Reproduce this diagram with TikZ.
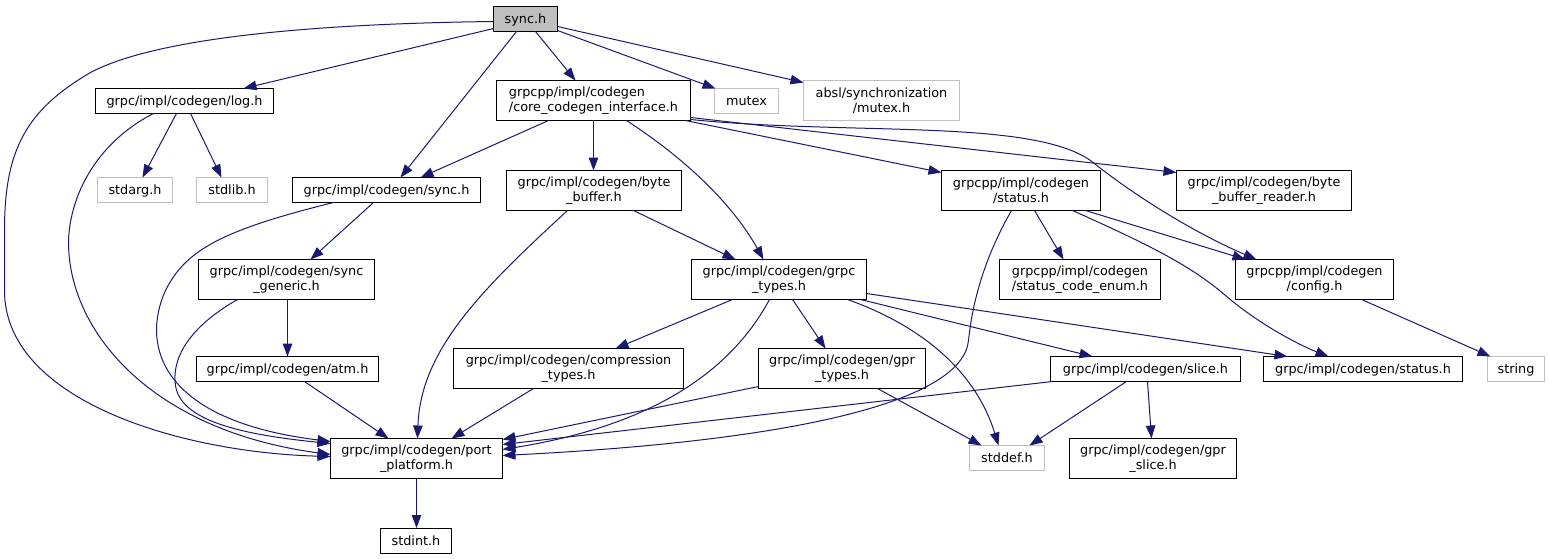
\documentclass[tikz,border=0pt]{standalone}
\usepackage{fontspec}
\setmainfont{DejaVu Sans}
\usetikzlibrary{arrows.meta}
\definecolor{navyc}{HTML}{191970}
\definecolor{greyc}{HTML}{BFBFBF}
\begin{document}
\begin{tikzpicture}[x=1pt,y=-1pt,
  nb/.style={draw=black, fill=white, line width=1pt, inner sep=0pt, outer sep=0pt,
    font=\fontsize{12.8}{15}\selectfont, align=center, minimum height=40pt},
  one/.style={minimum height=25pt, text height=10pt, text depth=1pt},
  gb/.style={nb, draw=greyc},
  e/.style={draw=navyc, line width=1pt, -{Triangle[length=13pt,width=9.5pt]}}]
\useasboundingbox (0,0) rectangle (1549,559);
\begin{scope}[shift={(0.5,0.5)}]
% nodes
\node[nb, one, fill=greyc, minimum width=64pt] (s) at (525,18.5) {sync.h};
\node[nb, one, minimum width=178pt] (log) at (184,100.5) {grpc/impl/codegen/log.h};
\node[nb, align=left, minimum width=194pt] (cci) at (593,100) {grpcpp/impl/codegen\\/core\_codegen\_interface.h};
\node[gb, one, minimum width=64pt] (mutex) at (746,100.5) {mutex};
\node[gb, minimum width=156pt] (absl) at (881,100) {absl/synchronization\\/mutex.h};
\node[gb, one, minimum width=75pt] (stdarg) at (134.5,189.5) {stdarg.h};
\node[gb, one, minimum width=71pt] (stdlib) at (231.5,189.5) {stdlib.h};
\node[nb, one, minimum width=188pt] (gsync) at (386,189.5) {grpc/impl/codegen/sync.h};
\node[nb, minimum width=175pt] (bb) at (593.5,190) {grpc/impl/codegen/byte\\\_buffer.h};
\node[nb, minimum width=159pt] (ppstatus) at (1020.5,190) {grpcpp/impl/codegen\\/status.h};
\node[nb, minimum width=175pt] (bbr) at (1263.5,190) {grpc/impl/codegen/byte\\\_buffer\_reader.h};
\node[nb, minimum width=176pt] (sgen) at (286,279) {grpc/impl/codegen/sync\\\_generic.h};
\node[nb, minimum width=175pt] (gtypes) at (778.5,279) {grpc/impl/codegen/grpc\\\_types.h};
\node[nb, minimum width=161pt] (sce) at (1079.5,279) {grpcpp/impl/codegen\\/status\_code\_enum.h};
\node[nb, minimum width=158pt] (config) at (1314,279) {grpcpp/impl/codegen\\/config.h};
\node[nb, one, minimum width=182pt] (atm) at (287,368.5) {grpc/impl/codegen/atm.h};
\node[nb, minimum width=230pt] (comp) at (568,368) {grpc/impl/codegen/compression\\\_types.h};
\node[nb, minimum width=167pt] (gprt) at (841.5,368) {grpc/impl/codegen/gpr\\\_types.h};
\node[nb, one, minimum width=190pt] (slice) at (1145,368.5) {grpc/impl/codegen/slice.h};
\node[nb, one, minimum width=199pt] (gstatus) at (1362.5,368.5) {grpc/impl/codegen/status.h};
\node[gb, one, minimum width=57pt] (string) at (1515.5,368.5) {string};
\node[nb, minimum width=172pt] (pp) at (416,458) {grpc/impl/codegen/port\\\_platform.h};
\node[gb, one, minimum width=75pt] (stddef) at (1006.5,457.5) {stddef.h};
\node[nb, minimum width=167pt] (gslice) at (1152.5,458) {grpc/impl/codegen/gpr\\\_slice.h};
\node[nb, one, minimum width=71pt] (stdint) at (415.5,540) {stdint.h};
% edges from sync.h
\draw[e] (s.west |- 0,21) .. controls (330,23) and (160,35) .. (90,72) .. controls (25,110) and (4,150) .. (4,230) -- (4,290) .. controls (4,400) and (180,452) .. (pp.west |- 0,456);
\draw[e] (s.west |- 0,28) -- (243,0 |- log.north);
\draw[e] (516,0 |- s.south) -- (400,0 |- gsync.north);
\draw[e] (535,0 |- s.south) -- (575,0 |- cci.north);
\draw[e] (s.east |- 0,30) -- (715,0 |- mutex.north);
\draw[e] (s.east |- 0,26) -- (absl.west |- 0,82);
% log.h
\draw[e] (153,0 |- log.south) .. controls (100,140) and (70,190) .. (68,240) .. controls (67,330) and (150,430) .. (pp.west |- 0,454);
\draw[e] (176,0 |- log.south) -- (142,0 |- stdarg.north);
\draw[e] (190,0 |- log.south) -- (221,0 |- stdlib.north);
% core_codegen_interface.h
\draw[e] (548,0 |- cci.south) -- (420,0 |- gsync.north);
\draw[e] (593,0 |- cci.south) -- (593,0 |- bb.north);
\draw[e] (626,0 |- cci.south) .. controls (680,155) and (730,200) .. (763,0 |- gtypes.north);
\draw[e] (685,0 |- cci.south) -- (ppstatus.west |- 0,172);
\draw[e] (cci.east |- 0,117) -- (bbr.west |- 0,172);
\draw[e] (cci.east |- 0,119) .. controls (850,135) and (1030,118) .. (1090,160) .. controls (1140,200) and (1200,235) .. (1256,0 |- config.north);
% grpc sync.h
\draw[e] (333,0 |- gsync.south) .. controls (220,230) and (185,250) .. (165,290) .. controls (140,345) and (160,420) .. (pp.west |- 0,441);
\draw[e] (373,0 |- gsync.south) -- (310,0 |- sgen.north);
% sync_generic.h
\draw[e] (287,0 |- sgen.south) -- (287,0 |- atm.north);
\draw[e] (237,0 |- sgen.south) .. controls (200,320) and (170,350) .. (175,385) .. controls (180,420) and (240,434) .. (pp.west |- 0,443);
% atm.h
\draw[e] (304,0 |- atm.south) -- (388,0 |- pp.north);
% byte_buffer.h
\draw[e] (567,0 |- bb.south) .. controls (480,290) and (420,350) .. (417,0 |- pp.north);
\draw[e] (633,0 |- bb.south) -- (735,0 |- gtypes.north);
% grpcpp status.h
\draw[e] (1011,0 |- ppstatus.south) .. controls (985,255) and (972,300) .. (968,340) .. controls (962,400) and (800,440) .. (pp.east |- 0,455);
\draw[e] (1034,0 |- ppstatus.south) -- (1063,0 |- sce.north);
\draw[e] (1085,0 |- ppstatus.south) -- (1245,0 |- config.north);
\draw[e] (1072,0 |- ppstatus.south) .. controls (1150,245) and (1190,265) .. (1225,295) .. controls (1260,325) and (1300,345) .. (1328,0 |- gstatus.north);
% config.h
\draw[e] (1361,0 |- config.south) -- (1490,0 |- string.north);
% grpc_types.h
\draw[e] (732,0 |- gtypes.south) -- (615,0 |- comp.north);
\draw[e] (769,0 |- gtypes.south) .. controls (720,390) and (620,430) .. (pp.east |- 0,449);
\draw[e] (792,0 |- gtypes.south) -- (825,0 |- gprt.north);
\draw[e] (847,0 |- gtypes.south) .. controls (920,325) and (975,370) .. (998,0 |- stddef.north);
\draw[e] (860,0 |- gtypes.south) -- (1092,0 |- slice.north);
\draw[e] (gtypes.east |- 0,293) -- (1287,0 |- gstatus.north);
% compression_types.h
\draw[e] (533,0 |- comp.south) -- (451,0 |- pp.north);
% gpr_types.h
\draw[e] (gprt.west |- 0,386) -- (pp.east |- 0,439);
\draw[e] (877,0 |- gprt.south) -- (981,0 |- stddef.north);
% slice.h
\draw[e] (1052,0 |- slice.south) -- (pp.east |- 0,444);
\draw[e] (1126,0 |- slice.south) -- (1029,0 |- stddef.north);
\draw[e] (1147,0 |- slice.south) -- (1151,0 |- gslice.north);
% port_platform.h
\draw[e] (416,0 |- pp.south) -- (416,0 |- stdint.north);
\end{scope}
\end{tikzpicture}
\end{document}
